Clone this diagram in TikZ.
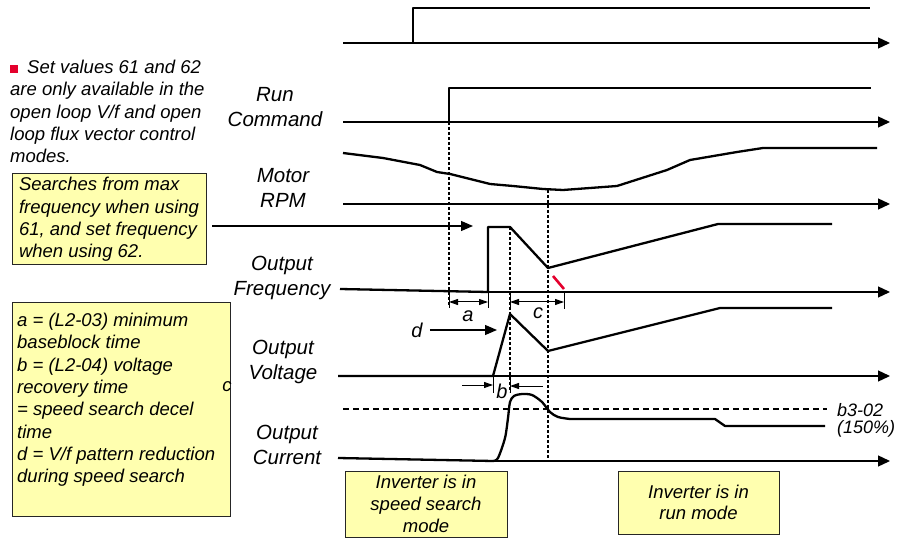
\documentclass[tikz,border=0pt]{standalone}
\usepackage{fontspec}
\setmainfont{Liberation Sans}
\usetikzlibrary{arrows.meta}
\definecolor{boxfill}{RGB}{255,255,175}
\definecolor{noteRed}{RGB}{228,0,45}
\begin{document}
\begin{tikzpicture}[x=1pt,y=-1pt,
  sig/.style={line width=2.3pt, line join=round},
  axis/.style={line width=1.3pt, -{Triangle[length=12pt,width=11pt]}},
  guide/.style={line width=1.3pt, dash pattern=on 3pt off 2pt},
  dimline/.style={line width=1pt},
  dimboth/.style={line width=1pt, {Triangle[length=9pt,width=6pt]}-{Triangle[length=9pt,width=6pt]}},
  dimarrow/.style={line width=1pt, -{Triangle[length=9pt,width=6pt]}},
  callout/.style={line width=1.3pt, -{Triangle[length=12pt,width=10pt]}},
  lbl/.style={font=\fontsize{20.5}{25}\selectfont\itshape, align=center, inner sep=0},
  small/.style={font=\fontsize{20}{24}\selectfont\itshape, inner sep=0},
  note/.style={font=\fontsize{18.5}{22.3}\selectfont\itshape, align=left, inner sep=0},
  ybox/.style={draw=black!85, line width=1pt, fill=boxfill, inner sep=0},
]
\useasboundingbox (0,0) rectangle (903,540);

% ---- top signal
\draw[sig] (343,43) -- (413,43) -- (413,8) -- (870,8);
\draw[axis] (413,43) -- (890,43);

% ---- run command
\draw[sig] (343,122) -- (449,122) -- (449,88) -- (871,88);
\draw[axis] (449,122) -- (890,122);

% ---- motor rpm
\draw[sig] (343,153) -- (383,158) -- (420,165) -- (437,172) -- (450,174) -- (490,184) -- (513,186) -- (543,189) -- (563,190) -- (617,186) -- (667,170) -- (690,160) -- (737,152) -- (763,148) -- (877,148);
\draw[axis] (343,204) -- (890,204);

% ---- output frequency
\draw[sig] (340,289) -- (488,292) -- (488,227) -- (510,227) -- (548,268) -- (718,224) -- (832,224);
\draw[axis] (488,292) -- (890,292);
\draw[noteRed, line width=2.6pt] (553,276) -- (564,289);

% ---- guides
\draw[guide] (449,122) -- (449,306);
\draw[guide] (510,227) -- (510,392);
\draw[guide] (548,190) -- (548,461);

% ---- dimension a and c
\draw[dimline] (449,293) -- (449,308);
\draw[dimline] (488,292) -- (488,308);
\draw[dimboth] (449,302) -- (488,302);
\draw[dimline] (510,293) -- (510,308);
\draw[dimline] (564,292) -- (564,309);
\draw[dimboth] (510,302) -- (564,302);
\node[small] (alab) at (468,316) {a};
\node[small] (clab) at (538,313) {c};

% ---- output voltage
\draw[sig] (338,376) -- (493,376) -- (510,314) -- (548,351) -- (720,308) -- (832,308);
\draw[axis] (493,376) -- (890,376);
\node[small] (dlab) at (417,330) {d};
\coordinate (dtip) at (497,330);
\draw[callout] (dlab.east) ++(7,0) -- (dtip);

% ---- dimension b
\draw[dimline] (493,377) -- (493,393);
\draw[dimline] (510,377) -- (510,393);
\coordinate (bl0) at (462,385);
\coordinate (bl1) at (493,385);
\coordinate (br0) at (543,386);
\coordinate (br1) at (510,386);
\draw[dimarrow] (bl0) -- (bl1);
\draw[dimarrow] (br0) -- (br1);
\node[small] (blab) at (502,391) {b};

% ---- limit
\draw[line width=1.3pt, dash pattern=on 6pt off 4pt] (343,409) -- (827,409);
\node[font=\fontsize{18}{20}\selectfont\itshape, inner sep=0, anchor=west] (lim1) at (837,410) {b3-02};
\node[font=\fontsize{18}{20}\selectfont\itshape, inner sep=0, anchor=west] (lim2) at (837,429) {(150\%)};

% ---- output current
\draw[sig] (338,458) -- (493,461);
\draw[sig] plot[smooth, tension=0.5] coordinates {(493,461) (498,458) (505,438) (508,418) (510,402) (514,396) (522,394) (532,395) (542,402) (550,412) (558,417) (570,419)};
\draw[sig] (570,419) -- (715,419) -- (725,426) -- (825,426);
\draw[axis] (493,461) -- (890,461);

% ---- signal labels
\node[lbl] (runlbl) at (275,107.5) {Run\\Command};
\node[lbl] (rpmlbl) at (283,188) {Motor\\RPM};
\node[lbl] (freqlbl) at (282,278) {Output\\Frequency};
\node[lbl] (voltlbl) at (283,362) {Output\\Voltage};
\node[lbl] (curlbl) at (287,445) {Output\\Current};

% ---- top note
\node[note, anchor=north west] (topnote) at (10,60) {{\color{noteRed}\raisebox{1pt}{\rule{8pt}{8pt}}}\hspace{9pt}Set values 61 and 62\\are only available in the\\open loop V/f and open\\loop flux vector control\\modes.};

% ---- search box
\node[ybox, note, minimum width=194pt, minimum height=91pt] (searchbox) at (109,219.5) {Searches from max\\frequency when using\\61, and set frequency\\when using 62.};
\coordinate (sstart) at (212,226);
\coordinate (stip) at (473,226);
\draw[callout] (sstart) -- (stip);

% ---- definitions box
\node[ybox, minimum width=218pt, minimum height=214pt, anchor=north west] (defbox) at (12,302) {};
\node[note, anchor=north west] (deftext) at (17,313) {a = (L2-03) minimum\\baseblock time\\b = (L2-04) voltage\\recovery time\\= speed search decel\\time\\d = V/f pattern reduction\\during speed search};
\node[note] (cstray) at (227,387) {c};

% ---- mode boxes
\node[ybox, note, align=center, minimum width=162pt, minimum height=66pt] (ssbox) at (426,504) {Inverter is in\\speed search\\mode};
\node[ybox, note, align=center, minimum width=161pt, minimum height=63pt, font=\fontsize{18.5}{21}\selectfont\itshape] (runbox) at (698.5,502.5) {Inverter is in\\run mode};
\end{tikzpicture}
\end{document}
